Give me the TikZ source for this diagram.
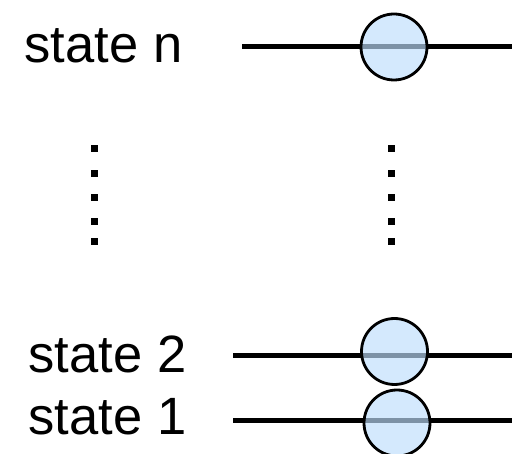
\documentclass[tikz,border=0pt]{standalone}
\usepackage{fontspec}
\setmainfont{Liberation Sans}
\definecolor{gatefill}{RGB}{190,222,252}
\begin{document}
\begin{tikzpicture}[x=1pt,y=-1pt,
  wire/.style={line width=5pt},
  gate/.style={circle,draw=black,line width=2.8pt,fill=gatefill,fill opacity=0.66,
               text opacity=1,minimum size=66pt,inner sep=0pt},
  label/.style={anchor=base west,inner sep=0pt,font=\fontsize{52.5}{60}\selectfont},
  vdot/.style={fill=black,minimum size=7pt,inner sep=0pt}]
\useasboundingbox (0,0) rectangle (512,454);

% labels
\node[label] (ln) at (24.5,63) {state n};
\node[label] (l2) at (28.5,373) {state 2};
\node[label] (l1) at (28.5,435) {state 1};

% wire end points
\coordinate (wn-a) at (242,47);  \coordinate (wn-b) at (512,47);
\coordinate (w2-a) at (233,356); \coordinate (w2-b) at (512,356);
\coordinate (w1-a) at (233,421); \coordinate (w1-b) at (512,421);

\draw[wire] (wn-a) -- (wn-b);
\draw[wire] (w2-a) -- (w2-b);
\draw[wire] (w1-a) -- (w1-b);

% gates sitting on the wires
\node[gate] (gn) at (394,47) {};
\node[gate] (g2) at (394.5,351.5) {};
\node[gate] (g1) at (397,423) {};

% vertical ellipses
\foreach \y [count=\i] in {149,174,198,222,242} {
  \node[vdot] (dl\i) at (94,\y) {};
  \node[vdot] (dr\i) at (391,\y) {};
}
\end{tikzpicture}
\end{document}
